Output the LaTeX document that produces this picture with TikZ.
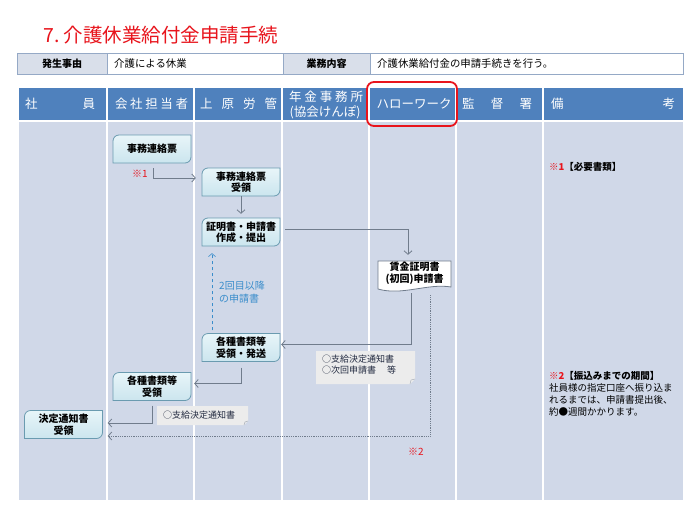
\documentclass[tikz,border=0pt]{standalone}
\usepackage{fontspec}
\setmainfont{Noto Sans CJK JP}
\usetikzlibrary{arrows.meta}
\definecolor{hdrblue}{HTML}{4F81BD}
\definecolor{bodybg}{HTML}{D0D8E8}
\definecolor{infohd}{HTML}{D9DFEA}
\definecolor{infoln}{HTML}{95A9C6}
\definecolor{boxtop}{HTML}{E8F5F9}
\definecolor{boxbot}{HTML}{CBE5EE}
\definecolor{boxln}{HTML}{6A9BB0}
\definecolor{connc}{HTML}{707C8C}
\definecolor{titlered}{HTML}{E8141C}
\definecolor{notebg}{HTML}{ECECEC}
\definecolor{notetx}{HTML}{222A40}
\definecolor{labblue}{HTML}{3A8DCB}
\newcommand\flowbox[4]{%
  \path[flowshape] ({#2-39},{-(#3)+8}) arc[start angle=180,end angle=90,radius=6]
    -- ({#2+39},{-(#3)+14}) -- ({#2+39},{-(#3)-8})
    arc[start angle=0,end angle=-90,radius=6] -- ({#2-39},{-(#3)-14}) -- cycle;
  \node[flowtext] (#1) at (#2,{-(#3)}) {#4};}
\tikzset{
  flowshape/.style={top color=boxtop, bottom color=boxbot, draw=boxln, line width=0.8pt},
  flowtext/.style={minimum width=78pt, minimum height=28pt, inner sep=0pt, align=center,
    font=\bfseries\fontsize{10}{11.5}\selectfont},
  conn/.style={draw=connc, line width=0.8pt, -{Straight Barb[length=3.5pt,width=8pt]}},
  dotconn/.style={conn, densely dotted},
  blueconn/.style={draw=labblue, line width=0.6pt, dashed, -{Straight Barb[length=3pt,width=7pt]}},
  hdr/.style={text=white, inner sep=0pt, font=\fontsize{12.5}{15}\selectfont},
  infohead/.style={inner sep=0pt, font=\bfseries\fontsize{10}{12}\selectfont},
  infotext/.style={inner sep=0pt, anchor=west, font=\fontsize{10.4}{12}\selectfont},
  notetext/.style={inner sep=0pt, text=notetx, align=left, font=\fontsize{9}{10.8}\selectfont},
  notefill/.style={fill=notebg},
  rednote/.style={inner sep=0pt, text=titlered, font=\fontsize{10}{12}\selectfont},
  sidetext/.style={inner sep=0pt, anchor=west, align=left, font=\fontsize{9.5}{12}\selectfont},
}
\begin{document}
\begin{tikzpicture}[x=1pt,y=1pt]
\useasboundingbox (0,0) rectangle (700,-525);
\fill[white] (0,0) rectangle (700,-525);
% title
\node[anchor=west, inner sep=0pt, text=titlered, font=\fontsize{19.5}{22}\selectfont] (title) at (43,-35) {7.\ 介護休業給付金申請手続};
% info table
\fill[white] (17,-53) rectangle (683,-74);
\fill[infohd] (17,-53) rectangle (107,-74);
\fill[infohd] (283,-53) rectangle (370,-74);
\draw[infoln, line width=0.8pt] (17,-53) rectangle (683,-74);
\draw[infoln, line width=0.8pt] (107,-53) -- (107,-74) (283,-53) -- (283,-74) (370,-53) -- (370,-74);
\node[infohead] (ih1) at (62,-63.5) {発生事由};
\node[infotext] (iv1) at (114,-63.5) {介護による休業};
\node[infohead] (ih2) at (326.5,-63.5) {業務内容};
\node[infotext] (iv2) at (377,-63.5) {介護休業給付金の申請手続きを行う。};
% main table
\fill[hdrblue] (19,-88) rectangle (683,-120);
\fill[bodybg] (19,-122) rectangle (683,-500);
\foreach \cx in {107,194,282,369,456,543}
  \draw[white, line width=1.5pt] (\cx,-88) -- (\cx,-500);
\node[hdr] (h1) at (60,-104) {\makebox[70pt][s]{社\hfill 員}};
\node[hdr] (h2) at (151.5,-104) {\makebox[73pt][s]{会\hfill 社\hfill 担\hfill 当\hfill 者}};
\node[hdr] (h3) at (238.5,-104) {\makebox[77pt][s]{上\hfill 原\hfill 労\hfill 管}};
\node[hdr] (h4a) at (326,-97) {\makebox[74pt][s]{年\hfill 金\hfill 事\hfill 務\hfill 所}};
\node[hdr] (h4b) at (325,-112) {(協会けんぽ)};
\node[hdr] (h5) at (414,-104) {ハローワーク};
\node[hdr] (h6) at (497,-104) {\makebox[70pt][s]{監\hfill 督\hfill 署}};
\node[hdr] (h7) at (613,-104) {\makebox[124pt][s]{備\hfill 考}};
\draw[titlered, line width=1.8pt, rounded corners=7pt] (367,-82) rectangle (457,-126);
% flow boxes
\flowbox{a}{152}{149}{事務連絡票}
\flowbox{b}{241}{182}{事務連絡票\\受領}
\flowbox{c}{241}{232}{証明書・申請書\\作成・提出}
\flowbox{e}{241}{347.5}{各種書類等\\受領・発送}
\flowbox{g}{152}{386.5}{各種書類等\\受領}
\flowbox{f}{63.5}{424.5}{決定通知書\\受領}
% document shape
\path[fill=white, draw=connc, line width=0.8pt] (378,-261) -- (451,-261) -- (451,-287)
  .. controls (428,-283) and (402,-296) .. (378,-289) -- cycle;
\node[flowtext, minimum width=73pt, minimum height=26pt] (d) at (414.5,-273) {賃金証明書\\(初回)申請書};
% notes
\path[notefill] (316,-351) -- (415,-351) -- (415,-379) -- (410,-384) -- (316,-384) -- cycle;
\draw[connc!60, line width=0.5pt] (410,-384) -- (411,-380) -- (415,-379);
\node[notetext, anchor=north west] (n1) at (322,-355) {○支給決定通知書\\○次回申請書　\ 等};
\path[notefill] (157,-406) -- (248,-406) -- (248,-421) -- (244,-425) -- (157,-425) -- cycle;
\draw[connc!60, line width=0.5pt] (244,-425) -- (245,-422) -- (248,-421);
\node[notetext, anchor=west] (n2) at (163,-415.5) {○支給決定通知書};
% labels
\node[rednote] (r1) at (140,-174) {※1};
\node[rednote] (r2) at (416,-452) {※2};
\node[inner sep=0pt, text=labblue, align=left, anchor=north west, font=\fontsize{10}{13}\selectfont] (bl) at (219,-281) {2回目以降\\の申請書};
% connectors
\coordinate (s1) at (153,-168);
\draw[conn] (s1) |- ([xshift=-6pt,yshift=4pt]b.west);
\draw[conn] (b.south) -- ([yshift=4pt]c.north);
\draw[conn] ([xshift=5pt,yshift=3pt]c.east) -| ([xshift=-6.5pt,yshift=5pt]d.north);
\draw[conn] ([xshift=-3pt,yshift=-7pt]d.south) |- ([xshift=1pt,yshift=3pt]e.east);
\draw[dotconn] ([xshift=15.5pt,yshift=-9pt]d.south) |- ([xshift=5pt,yshift=-11.5pt]f.east);
\draw[conn] ([yshift=-6pt]e.south) |- ([xshift=3pt,yshift=3pt]g.east);
\draw[conn] ([yshift=-5pt]g.south) |- ([xshift=5pt,yshift=1.5pt]f.east);
\draw[blueconn] ([xshift=-29pt,yshift=3pt]e.north) -- ([xshift=-29pt,yshift=-7pt]c.south);
% side notes
\node[sidetext] (m1) at (549,-167) {\textcolor{titlered}{\bfseries ※1}\textbf{【必要書類】}};
\node[sidetext, anchor=north west] (m2) at (549,-371) {\textcolor{titlered}{\bfseries ※2}\textbf{【振込みまでの期間】}\\社員様の指定口座へ振り込ま\\れるまでは、申請書提出後、\\約●週間かかります。};
\end{tikzpicture}
\end{document}
